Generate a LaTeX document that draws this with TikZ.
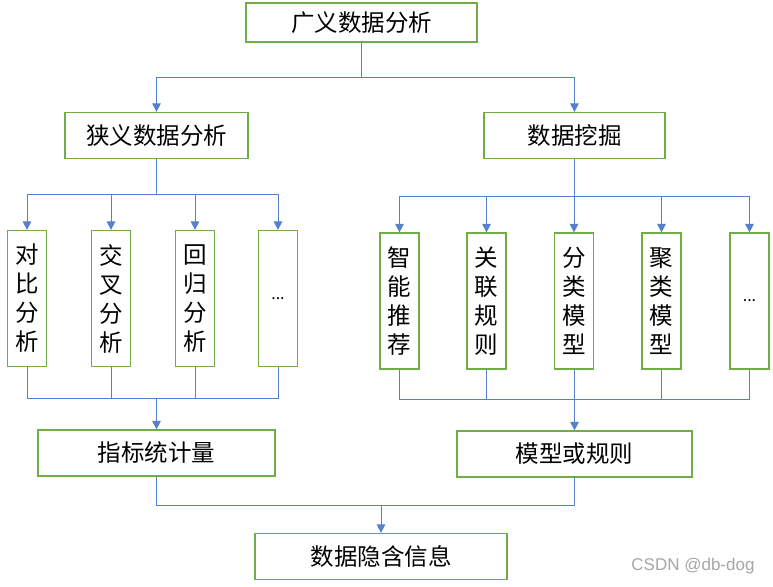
\documentclass[tikz,border=0pt]{standalone}
\usepackage{fontspec}
\setmainfont{Noto Sans CJK SC}
\newfontfamily\markfont{Liberation Sans}
\usepackage{tikz}
\usetikzlibrary{arrows.meta}

\definecolor{boxgreen}{RGB}{112,173,71}
\definecolor{lineblue}{RGB}{84,128,204}

\tikzset{
  box/.style={draw=boxgreen,line width=1.2pt,fill=white,inner sep=0pt,
    font=\fontsize{23.5}{29}\selectfont},
  widebox/.style={box,minimum width=#1,minimum height=46pt},
  tallbox/.style={box,minimum width=39pt,minimum height=136pt,align=center},
  link/.style={draw=lineblue,line width=0.9pt},
  arr/.style={link,-{Triangle[width=8.5pt,length=8.5pt]}}
}

\begin{document}
\begin{tikzpicture}[x=1pt,y=-1pt]
\useasboundingbox (0,0) rectangle (773,586);

% upper levels
\node[widebox=231pt,minimum height=39pt] (broad) at (361.5,22.5) {广义数据分析};
\node[widebox=183pt] (narrow) at (156.5,135.5) {狭义数据分析};
\node[widebox=181pt] (mining) at (574.5,135.5) {数据挖掘};

% narrow analysis methods
\node[tallbox] (contrast) at (27,298.5) {对\\比\\分\\析};
\node[tallbox] (cross) at (111,298.5) {交\\叉\\分\\析};
\node[tallbox] (regress) at (195,298.5) {回\\归\\分\\析};
\node[tallbox,font=\fontsize{16}{20}\selectfont] (nmore) at (278,298.5) {...};

% mining methods
\node[tallbox] (recommend) at (399.5,301) {智\\能\\推\\荐};
\node[tallbox] (assoc) at (486.5,301) {关\\联\\规\\则};
\node[tallbox] (classify) at (574,301) {分\\类\\模\\型};
\node[tallbox] (cluster) at (661.5,301) {聚\\类\\模\\型};
\node[tallbox,font=\fontsize{16}{20}\selectfont] (mmore) at (749.5,301) {...};

% results
\node[widebox=237pt] (stats) at (156.5,453) {指标统计量};
\node[widebox=235pt] (model) at (574.5,454) {模型或规则};
\node[widebox=252pt] (info) at (381,556.5) {数据隐含信息};

% split and merge points
\coordinate (s0) at (361.5,77);
\coordinate (s1) at (156.5,194);
\coordinate (s2) at (574.5,196);
\coordinate (m1) at (156.5,398);
\coordinate (m2) at (574.5,399);
\coordinate (m3) at (381,505);

\draw[link] (broad) -- (s0);
\draw[arr] (s0) -| (narrow);
\draw[arr] (s0) -| (mining);

\draw[link] (narrow) -- (s1);
\foreach \n in {contrast,cross,regress,nmore}
  \draw[arr] (s1) -| (\n);
\foreach \n in {contrast,cross,regress,nmore}
  \draw[link] (\n) |- (m1);
\draw[arr] (m1) -- (stats);

\draw[link] (mining) -- (s2);
\foreach \n in {recommend,assoc,classify,cluster,mmore}
  \draw[arr] (s2) -| (\n);
\foreach \n in {recommend,assoc,classify,cluster,mmore}
  \draw[link] (\n) |- (m2);
\draw[arr] (m2) -- (model);

\draw[link] (stats) |- (m3);
\draw[link] (model) |- (m3);
\draw[arr] (m3) -- (info);

% watermark
\node[text=black!35,font=\markfont\fontsize{17}{20}\selectfont] (mark) at (693,566) {CSDN @db-dog};
\end{tikzpicture}
\end{document}
